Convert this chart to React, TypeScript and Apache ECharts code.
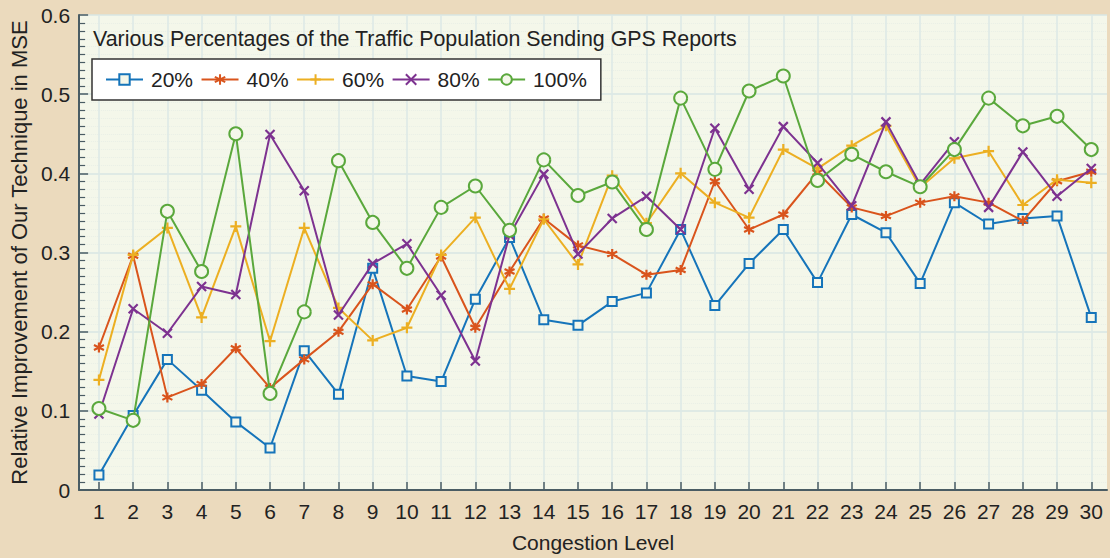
import React, { useEffect, useRef } from "react";
import * as echarts from "echarts";

const levels = Array.from({ length: 30 }, (_, i) => i + 1);
const seriesNames = ["20%", "40%", "60%", "80%", "100%"];
const p20 = [0.019, 0.094, 0.165, 0.126, 0.086, 0.053, 0.176, 0.121, 0.28, 0.144, 0.137, 0.241, 0.319, 0.215, 0.208, 0.238, 0.249, 0.329, 0.233, 0.286, 0.329, 0.262, 0.348, 0.325, 0.261, 0.363, 0.336, 0.343, 0.346, 0.218];
const p40 = [0.18, 0.296, 0.117, 0.134, 0.179, 0.129, 0.165, 0.2, 0.26, 0.228, 0.295, 0.205, 0.276, 0.343, 0.309, 0.298, 0.272, 0.278, 0.39, 0.329, 0.348, 0.401, 0.357, 0.346, 0.363, 0.371, 0.363, 0.34, 0.39, 0.402];
const p60 = [0.139, 0.297, 0.331, 0.218, 0.333, 0.188, 0.331, 0.23, 0.189, 0.205, 0.297, 0.344, 0.254, 0.342, 0.285, 0.397, 0.337, 0.4, 0.363, 0.344, 0.43, 0.406, 0.435, 0.46, 0.382, 0.419, 0.428, 0.36, 0.392, 0.388];
const p80 = [0.096, 0.229, 0.198, 0.257, 0.247, 0.449, 0.378, 0.221, 0.286, 0.311, 0.246, 0.163, 0.322, 0.399, 0.298, 0.343, 0.371, 0.329, 0.457, 0.38, 0.459, 0.413, 0.359, 0.465, 0.386, 0.44, 0.357, 0.427, 0.371, 0.406];
const p100 = [0.103, 0.088, 0.352, 0.276, 0.45, 0.122, 0.225, 0.416, 0.338, 0.28, 0.357, 0.384, 0.328, 0.417, 0.372, 0.389, 0.329, 0.495, 0.405, 0.504, 0.523, 0.391, 0.424, 0.402, 0.383, 0.43, 0.495, 0.46, 0.472, 0.43];

const colors = ["#1574ba", "#d9541c", "#ecaf22", "#7d3290", "#5aa83c"];
const plotBg = "#f4f7ea";
const FONT = "'Liberation Sans', Arial, Helvetica, sans-serif";
const FS = 21;

const SYM_PLUS = "path://M0,-6L0,6M-6,0L6,0";
const SYM_X = "path://M-5,-5L5,5M-5,5L5,-5";
const SYM_AST = "path://M0,-6L0,6M-5.2,-3L5.2,3M-5.2,3L5.2,-3";

export default function App() {
  const ref = useRef<HTMLDivElement>(null);
  useEffect(() => {
    if (!ref.current) return;
    const chart = echarts.init(ref.current, undefined, { renderer: "svg" });
    const all = [p20, p40, p60, p80, p100];
    const symbols = ["rect", SYM_AST, SYM_PLUS, SYM_X, "circle"];
    const sizes = [9, 10, 11, 9, 13];
    const series = all.map((arr, i) => {
      const stroked = i === 1 || i === 2 || i === 3;
      return {
        name: seriesNames[i],
        type: "line",
        data: arr.map((v, j) => [levels[j], v]),
        symbol: symbols[i],
        symbolSize: sizes[i],
        showAllSymbol: true,
        lineStyle: { color: colors[i], width: 2 },
        itemStyle: stroked
          ? { color: colors[i], borderColor: colors[i], borderWidth: 2.2 }
          : { color: plotBg, borderColor: colors[i], borderWidth: 2 },
        emphasis: { disabled: true },
        z: 2 + i,
      };
    });
    chart.setOption({
      animation: false,
      backgroundColor: "#ebdabd",
      textStyle: { fontFamily: FONT },
      title: {
        text: "Various Percentages of the Traffic Population Sending GPS Reports",
        left: 93,
        top: 28,
        padding: 0,
        textStyle: { fontFamily: FONT, fontSize: 21.4, fontWeight: "normal", color: "#222", lineHeight: 21 },
      },
      legend: {
        left: 92,
        top: 59,
        orient: "horizontal",
        backgroundColor: "#ffffff",
        borderColor: "#333333",
        borderWidth: 1.5,
        borderRadius: 0,
        padding: [10, 14, 10, 13],
        itemGap: 7.5,
        itemWidth: 37,
        itemHeight: 13,
        textStyle: { fontFamily: FONT, fontSize: FS, color: "#222", padding: [0, 0, 0, 3], lineHeight: 21 },
        data: seriesNames,
      },
      grid: {
        left: 76.7,
        top: 15,
        right: 3,
        bottom: 68,
        show: true,
        backgroundColor: plotBg,
        borderWidth: 0,
        containLabel: false,
      },
      xAxis: {
        type: "value",
        min: 0.42,
        max: 30.46,
        name: "Congestion Level",
        nameLocation: "middle",
        nameGap: 42,
        nameTextStyle: { fontFamily: FONT, fontSize: FS, color: "#222" },
        axisLine: { show: true, onZero: false, lineStyle: { color: "#4a5c63", width: 2 } },
        axisTick: { show: true, inside: true, length: 8, customValues: levels, lineStyle: { color: "#4a5c63", width: 1.5 } },
        axisLabel: { customValues: levels, margin: 11, fontFamily: FONT, fontSize: FS, color: "#222", showMinLabel: true, showMaxLabel: true },
        splitLine: { show: true, lineStyle: { color: "#dde9e6", width: 1.5 } },
      },
      yAxis: {
        type: "value",
        min: 0,
        max: 0.6,
        interval: 0.1,
        name: "Relative Improvement of Our Technique in MSE",
        nameLocation: "middle",
        nameGap: 48,
        nameTextStyle: { fontFamily: FONT, fontSize: 22, color: "#222" },
        axisLine: { show: true, lineStyle: { color: "#4a5c63", width: 2 } },
        axisTick: { show: true, inside: true, length: 9, lineStyle: { color: "#4a5c63", width: 1.5 } },
        minorTick: { show: true, splitNumber: 10, length: 6, lineStyle: { color: "#4a5c63", width: 1.2 } },
        axisLabel: {
          margin: 9,
          fontFamily: FONT,
          fontSize: FS,
          color: "#222",
          formatter: (v: number) => (Math.abs(v) < 1e-9 ? "0" : v.toFixed(1)),
        },
        splitLine: { show: true, lineStyle: { color: "#d8e6e3", width: 1.5 } },
        minorSplitLine: { show: true, lineStyle: { color: "#e9efe6", width: 1, type: "dotted" } },
      },
      series,
    });
    return () => chart.dispose();
  }, []);
  return (
    <div
      ref={ref}
      style={{ position: "fixed", left: 0, top: 0, width: 1110, height: 558 }}
    />
  );
}
